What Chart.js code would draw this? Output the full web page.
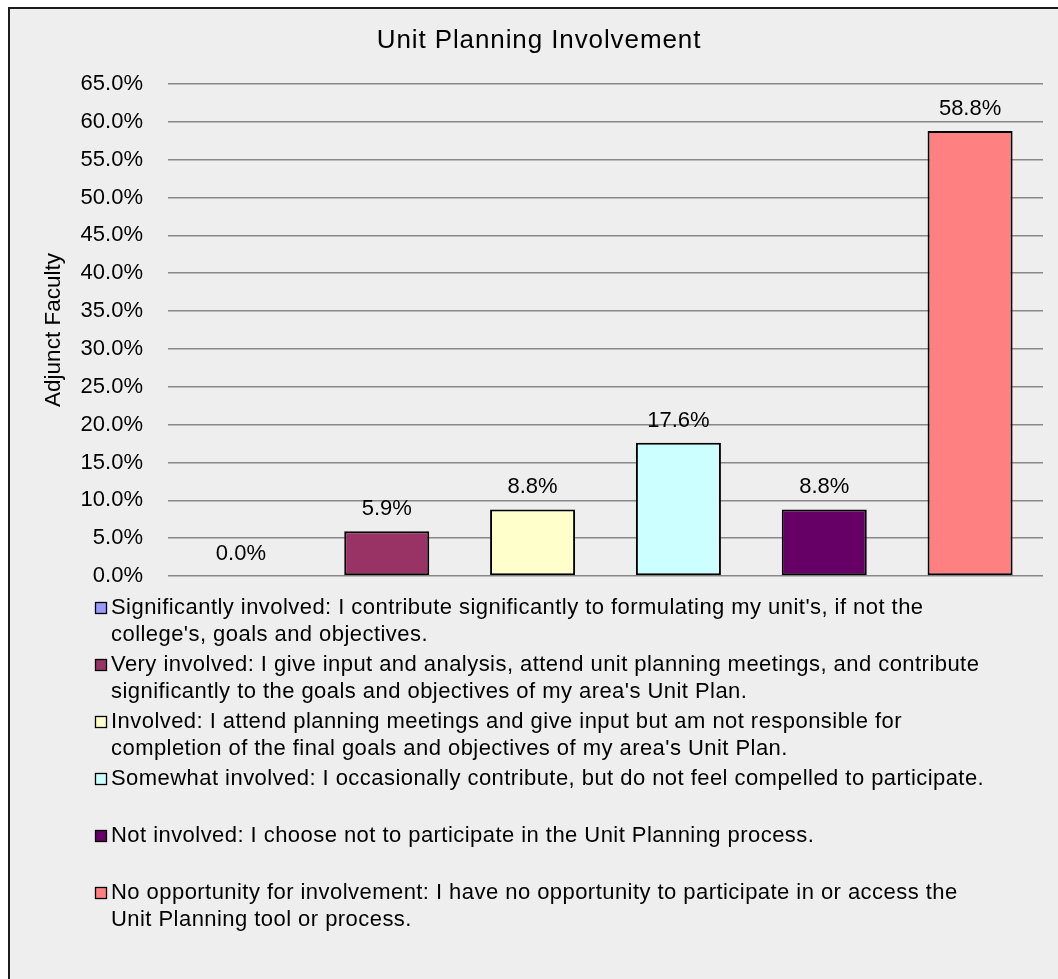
<!DOCTYPE html>
<html>
<head>
<meta charset="utf-8">
<title>Unit Planning Involvement</title>
<script src="https://cdn.jsdelivr.net/npm/chart.js@4.4.1/dist/chart.umd.min.js"></script>
<style>
    html, body {
        margin: 0;
        padding: 0;
        background: #ffffff;
        overflow: hidden;
    }
    #frame {
        position: absolute;
        left: 8px;
        top: 7px;
        width: 1100px;
        height: 1020px;
        border: 2px solid #1c1c1c;
        background: #eeeeee;
    }
    #chart {
        position: absolute;
        left: 0;
        top: 0;
    }
</style>
</head>
<body>
<div id="frame"></div>
<canvas id="chart" width="1058" height="979"></canvas>

<script>
// Survey responses (share of adjunct faculty, %)
const categories = [
    ["Significantly involved: I contribute significantly to formulating my unit's, if not the",
     "college's, goals and objectives."],
    ["Very involved: I give input and analysis, attend unit planning meetings, and contribute",
     "significantly to the goals and objectives of my area's Unit Plan."],
    ["Involved: I attend planning meetings and give input but am not responsible for",
     "completion of the final goals and objectives of my area's Unit Plan."],
    ["Somewhat involved: I occasionally contribute, but do not feel compelled to participate."],
    ["Not involved: I choose not to participate in the Unit Planning process."],
    ["No opportunity for involvement: I have no opportunity to participate in or access the",
     "Unit Planning tool or process."]
];
const percentages = [0.0, 5.9, 8.8, 17.6, 8.8, 58.8];
const barColors = ['#9999ff', '#993366', '#ffffcc', '#ccffff', '#660066', '#ff8080'];
const yTicks = { min: 0, max: 65, step: 5 };

const FONT = "'Liberation Sans', Arial, Helvetica, sans-serif";

// chart heading, centred over the whole frame rather than the plot
const chartTitle = {
    id: 'chartTitle',
    afterDraw(chart, args, opts) {
        const ctx = chart.ctx;
        ctx.save();
        ctx.font = '26px ' + FONT;
        ctx.letterSpacing = '0.9px';
        ctx.fillStyle = '#000';
        ctx.textAlign = 'center';
        ctx.textBaseline = 'middle';
        ctx.fillText(opts.text, 539, 41);
        ctx.restore();
    }
};

// value labels above each bar
const valueLabels = {
    id: 'valueLabels',
    afterDatasetsDraw(chart) {
        const ctx = chart.ctx;
        const meta = chart.getDatasetMeta(0);
        ctx.save();
        ctx.font = '22px ' + FONT;
        ctx.fillStyle = '#000';
        ctx.textAlign = 'center';
        ctx.textBaseline = 'middle';
        meta.data.forEach((bar, i) => {
            const v = chart.data.datasets[0].data[i];
            ctx.fillText(v.toFixed(1) + '%', bar.x, bar.y - 22);
        });
        ctx.restore();
    }
};

// legend under the plot: one slot per category, long labels on two lines
const bottomLegend = {
    id: 'bottomLegend',
    afterDraw(chart) {
        const ctx = chart.ctx;
        const labels = chart.data.labels;
        const colors = chart.data.datasets[0].backgroundColor;
        const textX = 111, firstY = 608, slot = 57, lineGap = 27;

        ctx.save();
        ctx.font = '22px ' + FONT;
        ctx.letterSpacing = '0.45px';
        labels.forEach((lines, i) => {
            const y = firstY + i * slot;
            ctx.fillStyle = colors[i];
            ctx.fillRect(95.5, y - 5.5, 11, 11);
            ctx.strokeStyle = '#000';
            ctx.lineWidth = 1.3;
            ctx.strokeRect(95.5, y - 5.5, 11, 11);

            ctx.fillStyle = '#000';
            ctx.textAlign = 'left';
            ctx.textBaseline = 'middle';
            lines.forEach((line, j) => {
                ctx.fillText(line, textX, y + j * lineGap);
            });
        });
        ctx.restore();
    }
};

const ctx = document.getElementById('chart').getContext('2d');
const involvementChart = new Chart(ctx, {
    type: 'bar',
    data: {
        labels: categories,
        datasets: [{
            label: 'Adjunct Faculty',
            data: percentages,
            backgroundColor: barColors,
            borderColor: '#000',
            borderWidth: 2,
            borderSkipped: false,
            categoryPercentage: 1,
            barPercentage: 0.583
        }]
    },
    options: {
        responsive: false,
        maintainAspectRatio: false,
        animation: false,
        devicePixelRatio: 1,
        layout: {
            padding: { left: 0, right: 15, top: 84, bottom: 403 }
        },
        plugins: {
            legend: { display: false },
            tooltip: { enabled: false },
            title: { display: false },
            chartTitle: { text: 'Unit Planning Involvement' }
        },
        scales: {
            x: {
                ticks: { display: false },
                grid: { display: false, drawTicks: false },
                border: { display: false }
            },
            y: {
                min: yTicks.min,
                max: yTicks.max,
                afterFit(scale) { scale.width = 168; },
                ticks: {
                    stepSize: yTicks.step,
                    padding: 25,
                    color: '#000',
                    font: { family: FONT, size: 22 },
                    callback: v => v.toFixed(1) + '%'
                },
                grid: { color: '#888888', lineWidth: 1.6, drawTicks: false },
                border: { display: false },
                title: {
                    display: true,
                    text: 'Adjunct Faculty',
                    color: '#000',
                    font: { family: FONT, size: 22.5 },
                    padding: { top: 40, bottom: 0 }
                }
            }
        }
    },
    plugins: [valueLabels, chartTitle, bottomLegend]
});
</script>
</body>
</html>
